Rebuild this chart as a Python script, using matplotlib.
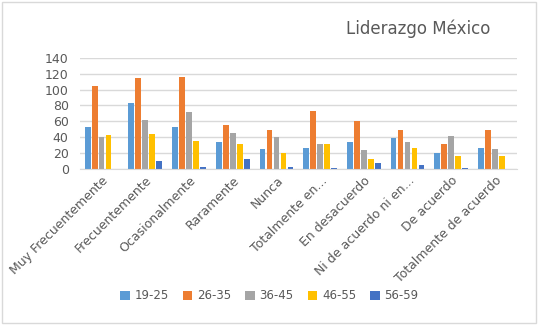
import numpy as np
import matplotlib.pyplot as plt
from matplotlib.patches import Rectangle

categorias = ['Muy Frecuentemente', 'Frecuentemente', 'Ocasionalmente', 'Raramente', 'Nunca',
              'Totalmente en...', 'En desacuerdo', 'Ni de acuerdo ni en...', 'De acuerdo',
              'Totalmente de acuerdo']
edad_19_25 = [53, 83, 53, 34, 25, 27, 34, 39, 20, 27]
edad_26_35 = [105, 115, 116, 56, 49, 73, 60, 49, 31, 49]
edad_36_45 = [40, 62, 72, 45, 40, 32, 24, 34, 41, 25]
edad_46_55 = [43, 44, 35, 32, 20, 32, 12, 26, 17, 17]
edad_56_59 = [0, 10, 3, 12, 2, 1, 8, 5, 1, 0]

series = [('19-25', edad_19_25, '#5B9BD5'),
          ('26-35', edad_26_35, '#ED7D31'),
          ('36-45', edad_36_45, '#A5A5A5'),
          ('46-55', edad_46_55, '#FFC000'),
          ('56-59', edad_56_59, '#4472C4')]

fig = plt.figure(figsize=(5.39, 3.25), dpi=100)
ax = fig.add_axes([0.148, 0.48, 0.811, 0.342])

x = np.arange(len(categorias))
w = 0.16
for i, (nombre, vals, color) in enumerate(series):
    ax.bar(x + (i - 2) * w, vals, w * 0.82, color=color, label=nombre)

ax.set_ylim(0, 140)
ax.set_xlim(-0.5, len(categorias) - 0.5)
ax.set_yticks(range(0, 141, 20))
ax.yaxis.grid(True, color='#D9D9D9', linewidth=1)
ax.set_axisbelow(True)
for s in ['top', 'right', 'left']:
    ax.spines[s].set_visible(False)
ax.spines['bottom'].set_color('#D9D9D9')
ax.tick_params(axis='both', length=0, labelsize=9, colors='#595959')
ax.tick_params(axis='y', pad=8)
ax.set_xticks(x)
ax.set_xticklabels(categorias, rotation=45, ha='right', rotation_mode='anchor')

fig.text(0.775, 0.91, 'Liderazgo México', fontsize=12, color='#595959', ha='center', va='center')

fig.legend(loc='center', bbox_to_anchor=(0.5, 0.09), ncol=5, frameon=False,
           fontsize=8.5, handlelength=0.8, handleheight=0.8, columnspacing=1.2,
           handletextpad=0.4, labelcolor='#595959')

fig.patches.append(Rectangle((0.004, 0.006), 0.99, 0.988, transform=fig.transFigure,
                             fill=False, edgecolor='#D9D9D9', linewidth=1))

fig.savefig('out.png', dpi=100)
